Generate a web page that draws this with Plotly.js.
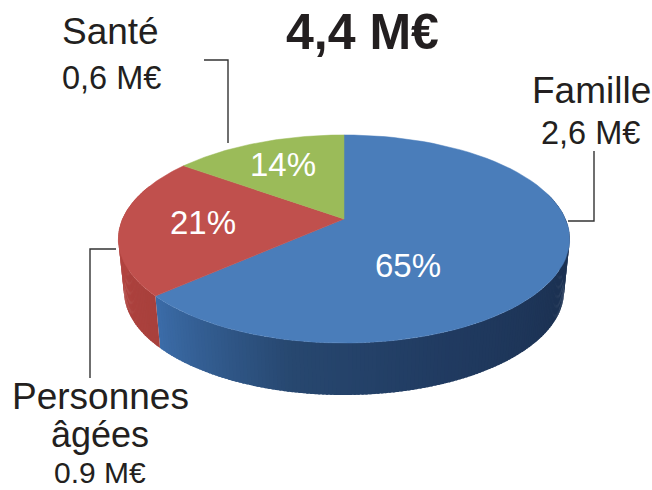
<!DOCTYPE html>
<html><head><meta charset="utf-8">
<script src="https://cdn.plot.ly/plotly-3.0.1.min.js"></script>
<style>html,body{margin:0;padding:0;background:#fff}#c{width:652px;height:490px}</style>
</head><body><div id="c"></div>
<script>
const total = '4,4 M€';
const categories = ['Famille', 'Personnes<br>âgées', 'Santé'];
const amounts = ['2,6 M€', '0.9 M€', '0,6 M€'];
const shares = [65, 21, 14];
const topColors = ['#4a7dba', '#c0504d', '#9bbb59'];

const FONT = '"Liberation Sans", Arial, sans-serif';
const CX = 344, CY = 219, A = 221.5, B = 100.2, K = 0.192, DEPTH = 52, BOTTOM_SCALE = 0.975;
function project(deg, scale, dy) {
  const r = deg * Math.PI / 180;
  const w = r + (6 * Math.PI / 180) * Math.sin(r) - (1.3 * Math.PI / 180) * Math.sin(2 * r);
  const u = Math.sin(w), v = Math.cos(w), d = 1 + K * v;
  return [CX + scale * A * u / d, CY + dy - B * v / d];
}
function hex(c) { return [1, 3, 5].map(i => parseInt(c.substr(i, 2), 16)); }
function mix(stops, t) {
  const n = stops.length - 1, i = Math.min(n - 1, Math.floor(t * n)), f = t * n - i;
  const a = hex(stops[i]), b = hex(stops[i + 1]);
  return 'rgb(' + a.map((x, j) => Math.round(x + (b[j] - x) * f)).join(',') + ')';
}
const traces = [];
function poly(pts, color, width) {
  traces.push({type: 'scatter', mode: 'lines', x: pts.map(p => p[0]), y: pts.map(p => p[1]),
    fill: 'toself', fillcolor: color, line: {color: color, width: width}, hoverinfo: 'skip', showlegend: false});
}
// side wall: strips overlap slightly so that no seam shows between them
const split = shares[0] * 3.6;
function sideBand(from, to, stops) {
  const n = Math.round(to - from);
  for (let i = 0; i < n; i++) {
    const a = from + (to - from) * i / n, b = from + (to - from) * (i + 1.6) / n;
    const end = Math.min(b, to);
    poly([project(a, 1, 0), project(end, 1, 0), project(end, BOTTOM_SCALE, DEPTH), project(a, BOTTOM_SCALE, DEPTH)],
      mix(stops, i / (n - 1)), 0);
  }
}
sideBand(70, split, ['#1b3050', '#1c3253', '#203a60', '#27476f', '#3b6ca8']);
sideBand(split, 295, ['#a8403c', '#b0433f', '#b5453f']);
// top face
let start = 0;
shares.forEach((s, i) => {
  const end = start + s * 3.6, pts = [[CX, CY]];
  for (let k = 0; k <= 80; k++) pts.push(project(start + (end - start) * k / 80, 1, 0));
  pts.push([CX, CY]);
  poly(pts, topColors[i], 0.5);
  start = end;
});

const ink = '#231f20';
const annotation = (x, y, text, size, color, bold) => ({
  xref: 'x', yref: 'y', x, y, text: bold ? '<b>' + text + '</b>' : text, showarrow: false,
  xanchor: 'center', yanchor: 'middle', font: {family: FONT, size, color: color || ink}
});
const annotations = [
  annotation(362, 32, total, 50, ink, true),
  annotation(591, 90, categories[0], 37),
  annotation(590, 133, amounts[0], 32.5),
  annotation(100, 396, 'Personnes', 37),
  annotation(100, 434, 'âgées', 36),
  annotation(100, 472, amounts[1], 30),
  annotation(110, 31, categories[2], 37),
  annotation(111, 78, amounts[2], 32.5),
  annotation(408, 265, shares[0] + '%', 33, '#fff'),
  annotation(203, 222, shares[1] + '%', 33, '#fff'),
  annotation(283, 164, shares[2] + '%', 33, '#fff')
];
const leader = path => ({type: 'path', xref: 'x', yref: 'y', path, line: {color: '#333', width: 1.4}, layer: 'above'});
const layout = {
  width: 652, height: 490, margin: {l: 0, r: 0, t: 0, b: 0},
  paper_bgcolor: '#fff', plot_bgcolor: '#fff', showlegend: false,
  xaxis: {range: [0, 652], visible: false, fixedrange: true},
  yaxis: {range: [490, 0], visible: false, fixedrange: true},
  annotations,
  shapes: [
    leader('M204,60 L228,60 L228,143'),
    leader('M568,221 L594,221 L594,151'),
    leader('M116,249 L90,249 L90,378')
  ]
};
Plotly.newPlot('c', traces, layout, {displayModeBar: false, staticPlot: true});
</script></body></html>
